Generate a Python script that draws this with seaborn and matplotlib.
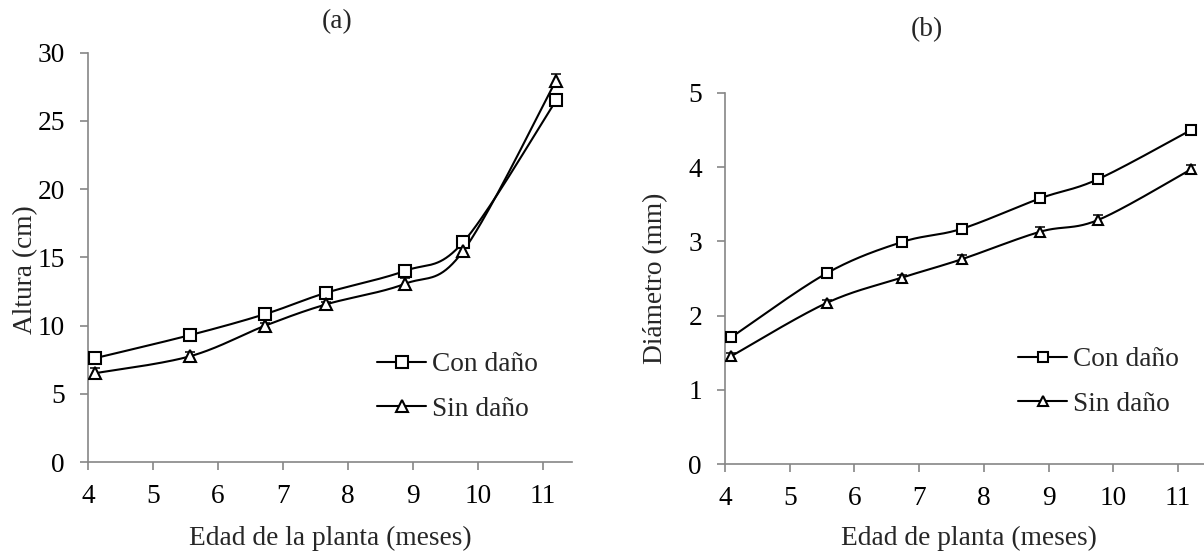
import numpy as np
import pandas as pd
import matplotlib
matplotlib.use("Agg")
import matplotlib.pyplot as plt
import seaborn as sns
from matplotlib.lines import Line2D

# ---------------- data ----------------
edad = [4.1, 5.57, 6.73, 7.66, 8.87, 9.77, 11.2]

altura_con = [7.6, 9.3, 10.85, 12.4, 14.0, 16.1, 26.5]
altura_sin = [6.5, 7.75, 10.0, 11.55, 13.05, 15.45, 27.95]
altura_con_err = [0.15, 0.15, 0.15, 0.15, 0.15, 0.3, 0.2]
altura_sin_err = [0.4, 0.3, 0.2, 0.2, 0.4, 0.3, 0.5]

diam_con = [1.71, 2.57, 2.99, 3.17, 3.58, 3.84, 4.50]
diam_sin = [1.455, 2.17, 2.51, 2.76, 3.13, 3.29, 3.97]
diam_con_err = [0.03, 0.03, 0.03, 0.03, 0.03, 0.03, 0.03]
diam_sin_err = [0.04, 0.04, 0.04, 0.05, 0.06, 0.06, 0.06]

series_names = ["Con daño", "Sin daño"]
x_ticks = [4, 5, 6, 7, 8, 9, 10, 11]
ya_ticks = [0, 5, 10, 15, 20, 25, 30]
yb_ticks = [0, 1, 2, 3, 4, 5]

# ---------------- style ----------------
sns.set_theme(style="white")
plt.rcParams['font.family'] = ['Liberation Serif', 'DejaVu Serif']
FS = 19.7
GRAY = "#868686"
LW = 1.5


def smooth(x, y, n=40):
    """Catmull-Rom (Excel-style smoothed line) through the data points."""
    x = np.asarray(x, float)
    y = np.asarray(y, float)
    px = np.concatenate([[x[0]], x, [x[-1]]])
    py = np.concatenate([[y[0]], y, [y[-1]]])
    xs, ys = [], []
    for i in range(1, len(px) - 2):
        p0, p1, p2, p3 = [np.array([px[j], py[j]]) for j in (i - 1, i, i + 1, i + 2)]
        m1 = 0.5 * (p2 - p0)
        m2 = 0.5 * (p3 - p1)
        t = np.linspace(0, 1, n)
        h00 = 2 * t**3 - 3 * t**2 + 1
        h10 = t**3 - 2 * t**2 + t
        h01 = -2 * t**3 + 3 * t**2
        h11 = t**3 - t**2
        pts = (h00[:, None] * p1 + h10[:, None] * m1 + h01[:, None] * p2 + h11[:, None] * m2)
        xs.extend(pts[:, 0])
        ys.extend(pts[:, 1])
    return np.array(xs), np.array(ys)


W, H = 1204, 559
fig = plt.figure(figsize=(W / 100, H / 100), dpi=100)
axA = fig.add_axes([88 / W, 1 - 462 / H, (7.45 * 65.0) / W, (462 - 52.7) / H])
axB = fig.add_axes([725 / W, 1 - 464 / H, (7.45 * 64.7) / W, (464 - 93) / H])


def draw(ax, ycon, ysin, econ, esin, ms_sq, ms_tri, ylim, yticks):
    for yv, ev, mk, ms in ((ycon, econ, 's', ms_sq), (ysin, esin, '^', ms_tri)):
        sx, sy = smooth(edad, yv)
        df = pd.DataFrame({"x": sx, "y": sy})
        sns.lineplot(data=df, x="x", y="y", ax=ax, color="black", lw=LW,
                     sort=False, estimator=None, zorder=2)
        ax.errorbar(edad, yv, yerr=ev, fmt='none', ecolor='black', elinewidth=1.1,
                    capsize=3.5, capthick=1.1, zorder=2)
        ax.plot(edad, yv, linestyle='none', marker=mk, ms=ms, mfc='white',
                mec='black', mew=1.5, zorder=3)
    ax.set_xlim(4, 11.45)
    ax.set_ylim(*ylim)
    ax.set_xticks(x_ticks)
    ax.set_yticks(yticks)
    ax.set_xlabel("")
    ax.set_ylabel("")
    for s in ("top", "right"):
        ax.spines[s].set_visible(False)
    for s in ("left", "bottom"):
        ax.spines[s].set_color(GRAY)
        ax.spines[s].set_linewidth(1.2)
    ax.tick_params(axis='both', which='major', labelsize=FS, colors=GRAY,
                   labelcolor='black', length=6, width=1.2, direction='out')
    ax.tick_params(axis='y', pad=10.5)
    ax.tick_params(axis='x', pad=10)
    ax.tick_params(bottom=True, left=True)
    ax.patch.set_alpha(0)


draw(axA, altura_con, altura_sin, altura_con_err, altura_sin_err, 8.5, 8.5, (0, 30), ya_ticks)
draw(axB, diam_con, diam_sin, diam_con_err, diam_sin_err, 6.5, 7.5, (0, 5), yb_ticks)


def legend(ax, ms_sq, ms_tri, xpx, ytop_px):
    handles = [
        Line2D([], [], color='black', lw=LW, marker='s', ms=ms_sq, mfc='white', mec='black', mew=1.5),
        Line2D([], [], color='black', lw=LW, marker='^', ms=ms_tri, mfc='white', mec='black', mew=1.5),
    ]
    ax.legend(handles, series_names, loc='upper left',
              bbox_to_anchor=(xpx / W, 1 - ytop_px / H), bbox_transform=fig.transFigure,
              frameon=False, fontsize=FS, handlelength=1.8, handletextpad=0.22,
              labelspacing=0.72, borderpad=0, borderaxespad=0)


legend(axA, 8.5, 8.5, 377, 352)
legend(axB, 6.5, 7.5, 1018, 347)

fig.text(337 / W, 1 - 22 / H, "(a)", ha='center', va='center', fontsize=FS)
fig.text(927 / W, 1 - 30 / H, "(b)", ha='center', va='center', fontsize=FS)
fig.text(330 / W, 1 - 538 / H, "Edad de la planta (meses)", ha='center', va='center', fontsize=FS)
fig.text(969 / W, 1 - 538 / H, "Edad de planta (meses)", ha='center', va='center', fontsize=FS)
fig.text(26 / W, 1 - 270 / H, "Altura (cm)", ha='center', va='center', rotation=90, fontsize=FS)
fig.text(656 / W, 1 - 278 / H, "Diámetro (mm)", ha='center', va='center', rotation=90, fontsize=FS)

fig.savefig("out.png", dpi=100)
